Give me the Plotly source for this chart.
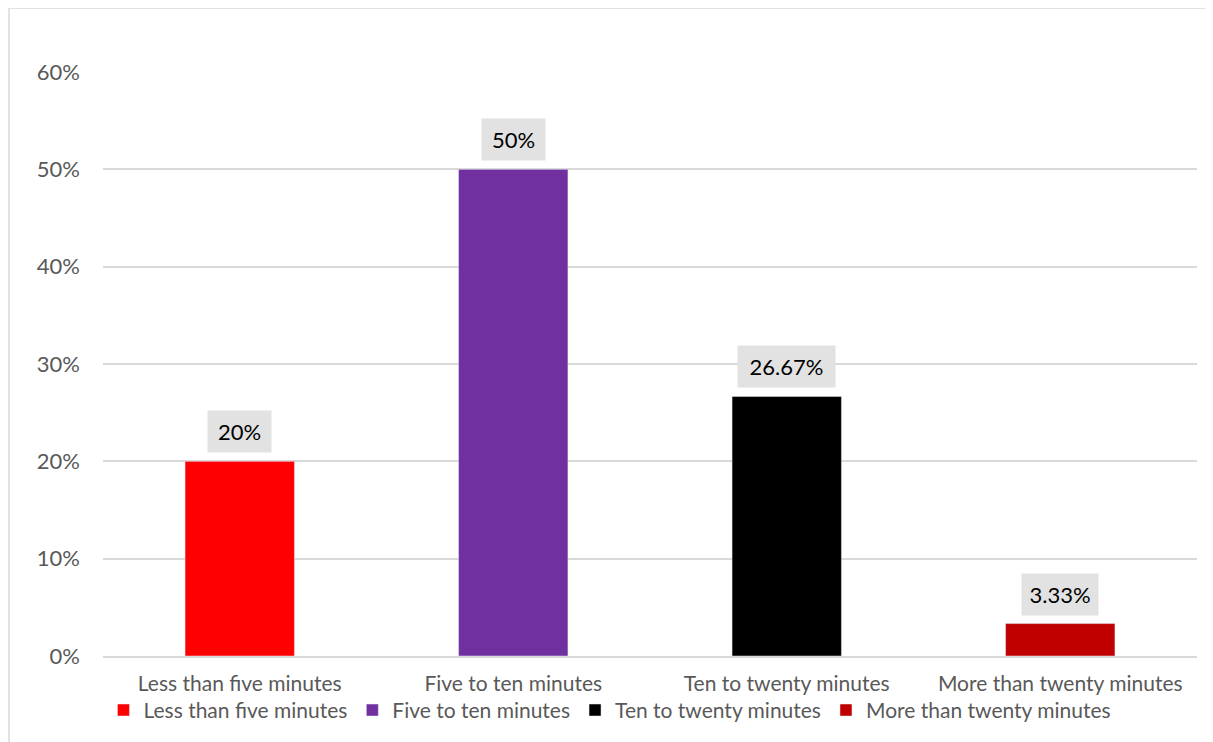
import plotly.graph_objects as go

categories = ["Less than five minutes", "Five to ten minutes", "Ten to twenty minutes", "More than twenty minutes"]
values = [0.20, 0.50, 0.2667, 0.0333]
labels = ["20%", "50%", "26.67%", "3.33%"]
colors = ["#ff0000", "#7030a0", "#000000", "#c00000"]

# label box widths (style only)
box_w = {"20%": 63, "50%": 63, "26.67%": 97, "3.33%": 76}

W, H = 1213, 742
OFF = 8  # page body margin offset
L, R, T, B = 103 - OFF, W - (1197 - OFF), 72 - OFF, H - (656 - OFF)
pw = W - L - R
ph = H - T - B
FONT = "Lato, Noto Sans, sans-serif"

fig = go.Figure()
for c, v, col in zip(categories, values, colors):
    fig.add_trace(go.Bar(x=[c], y=[v], name=c, marker_color=col, width=0.4,
                         hoverinfo="skip"))

for c, v, t in zip(categories, values, labels):
    fig.add_annotation(x=c, y=v, text=t, showarrow=False, yanchor="bottom", yshift=8,
                       font=dict(family=FONT, size=22, color="#000000"),
                       bgcolor="#e2e2e2", borderpad=0, height=41, width=box_w[t])

fig.add_shape(type="rect", xref="paper", yref="paper",
              x0=(1 - L) / pw, x1=(1203 - L) / pw,
              y0=(T + ph - 745) / ph, y1=(T + ph + 0) / ph,
              line=dict(color="#d9d9d9", width=1.5), fillcolor="rgba(0,0,0,0)", layer="below")

fig.update_layout(
    width=W, height=H,
    margin=dict(l=L, r=R, t=T, b=B),
    paper_bgcolor="white", plot_bgcolor="white",
    barmode="overlay",
    font=dict(family=FONT, size=21, color="#595959"),
    showlegend=True,
    legend=dict(orientation="h", x=0.4634, xanchor="center", y=-0.058, yanchor="top",
                font=dict(size=21, color="#595959"), itemwidth=30, tracegroupgap=0,
                bgcolor="rgba(0,0,0,0)"),
    xaxis=dict(showgrid=False, showline=True, linecolor="#d9d9d9", linewidth=1.5,
               ticks="", ticklabelstandoff=8, tickfont=dict(size=21, color="#595959")),
    yaxis=dict(range=[0, 0.6], dtick=0.1, tickformat=".0%", showgrid=True,
               gridcolor="#d9d9d9", gridwidth=1.5, zeroline=False, showline=False,
               ticks="", ticklabelstandoff=22, tickfont=dict(size=22, color="#595959")),
)

fig.write_html("out.html")
